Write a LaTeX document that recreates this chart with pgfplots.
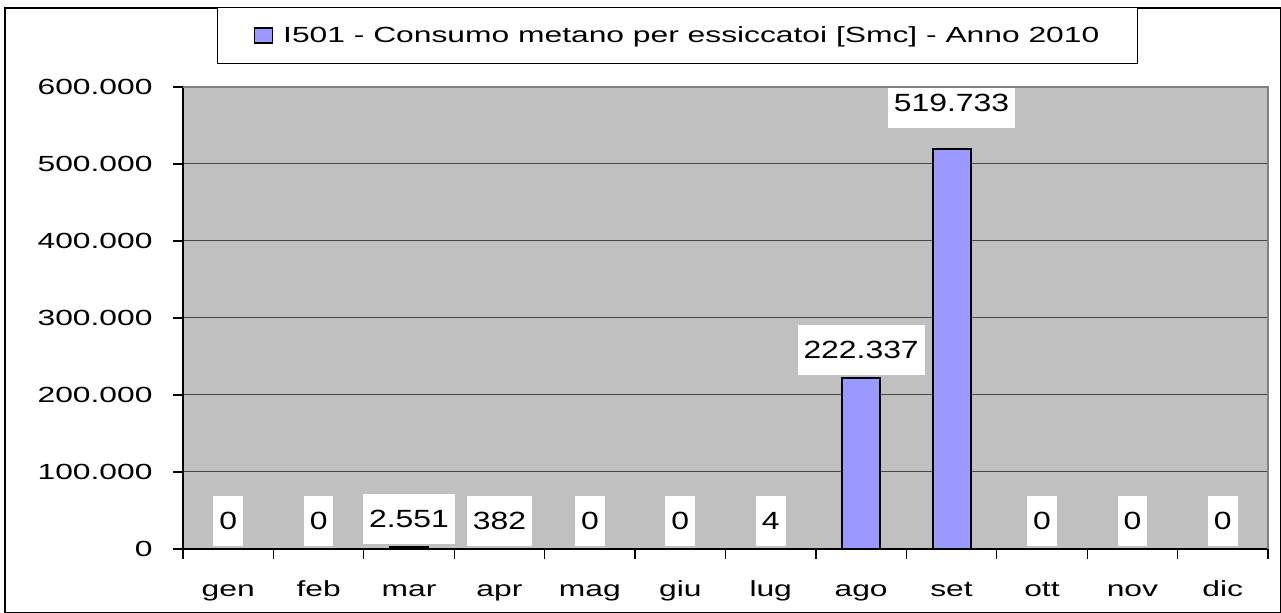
\documentclass[border=0pt]{standalone}
\usepackage{fontspec}
\setmainfont{Liberation Sans}[FakeStretch=1.45]
\newfontfamily\lblfont{Liberation Sans}[FakeStretch=1.28]
\usepackage{pgfplots}
\usepackage{pgfplotstable}
\pgfplotsset{compat=1.18}

\definecolor{plotbg}{RGB}{192,192,192}
\definecolor{barfill}{RGB}{153,153,255}
\definecolor{gridc}{RGB}{70,70,70}

\pgfplotstableread{
x y lbl
1 0 0
2 0 0
3 2551 2.551
4 382 382
5 0 0
6 0 0
7 4 4
8 222337 222.337
9 519733 519.733
10 0 0
11 0 0
12 0 0
}\datatable

\begin{document}
\begin{tikzpicture}[x=1bp,y=1bp]
\useasboundingbox (-183,-64) rectangle (1098,549);
\fill[white] (-183,-64) rectangle (1098,549);
\draw[line width=1.3bp] (-178,-63.3) rectangle (1097.3,541);
\begin{axis}[
  at={(0,0)}, anchor=south west,
  scale only axis, width=1085bp, height=462bp,
  xmin=0.5, xmax=12.5, ymin=0, ymax=600000,
  clip=false,
  scaled y ticks=false,
  axis background/.style={fill=plotbg},
  axis x line*=bottom, axis y line*=left,
  axis line style={-, black, line width=1.2bp},
  ytick={0,100000,200000,300000,400000,500000,600000},
  yticklabels={0,100.000,200.000,300.000,400.000,500.000,600.000},
  yticklabel style={xshift=-17bp},
  ymajorgrids, grid style={gridc, line width=1bp},
  xtick={0.5,1.5,...,12.5},
  xticklabels={},
  extra x ticks={1,...,12},
  extra x tick labels={gen,feb,mar,apr,mag,giu,lug,ago,set,ott,nov,dic},
  extra x tick style={major tick length=0pt, grid=none,
     xticklabel style={text height=16bp, text depth=5bp, yshift=-28bp}},
  tick align=outside,
  major tick length=10bp,
  tick style={black, line width=1.2bp},
  ticklabel style={font=\fontsize{22}{22}\selectfont, text=black},
  ybar, bar width=38bp,
  nodes near coords,
  point meta=explicit symbolic,
  visualization depends on={value \coordindex \as \idx},
  every node near coord/.append style={fill=white, inner xsep=6bp, inner ysep=0bp,
     minimum height=50bp, anchor=south, text=black,
     font=\lblfont\fontsize{25}{25}\selectfont,
     yshift={ifthenelse(\idx==8,20,2)}},
  legend style={at={(axis description cs:0.4558,1.1710)}, anchor=north, outer sep=0pt,
     draw=black, line width=1bp, fill=white, inner xsep=36bp, inner ysep=17bp,
     font=\fontsize{22}{22}\selectfont},
  legend image code/.code={\draw[fill=barfill, draw=black, line width=1.5bp] (0bp,-7.5bp) rectangle (18bp,7.5bp);},
  after end axis/.code={\draw[gray, line width=1.2bp] (rel axis cs:0,1) -- (rel axis cs:1,1) -- (rel axis cs:1,0);},
]
\addplot[fill=barfill, draw=black, line width=2bp] table[x=x, y=y, meta=lbl] {\datatable};
\addlegendentry{\hspace{8bp}I501 - Consumo metano per essiccatoi [Smc] - Anno 2010}
\end{axis}
\end{tikzpicture}
\end{document}
